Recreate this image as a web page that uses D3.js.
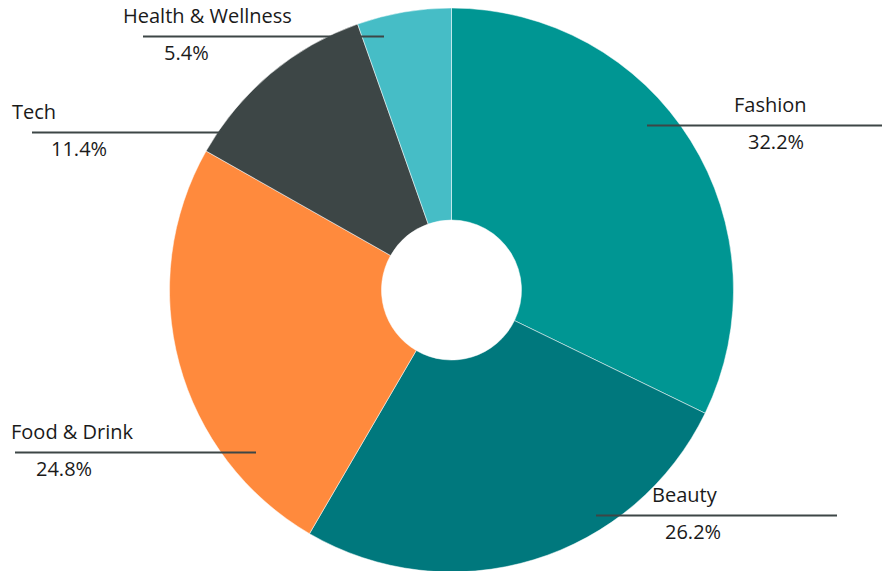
<!DOCTYPE html>
<html>
<head>
<meta charset="utf-8">
<script src="https://cdn.jsdelivr.net/npm/d3@7/dist/d3.min.js"></script>
<style>
  html, body { margin: 0; padding: 0; background: #fff; }
  svg { display: block; }
  text { font-family: "Open Sans", Lato, sans-serif; fill: #1a1a1a; }
</style>
</head>
<body>
<svg id="chart" width="882" height="571"></svg>
<script>
// Share of content by category (percent)
const categories = ["Fashion", "Beauty", "Food & Drink", "Tech", "Health & Wellness"];
const shares = [32.2, 26.2, 24.8, 11.4, 5.4];
const colors = ["#009693", "#00787d", "#ff8a3d", "#3d4646", "#46bdc6"];

// Leader line and label placement for each category
const labelLayout = [
  { x1: 647, x2: 882, y: 125.5, nameX: 734, valueX: 748 },
  { x1: 596, x2: 837, y: 515.5, nameX: 652, valueX: 665 },
  { x1: 15,  x2: 256, y: 452.5, nameX: 11,  valueX: 36 },
  { x1: 32,  x2: 222, y: 132.5, nameX: 12,  valueX: 51 },
  { x1: 143, x2: 384, y: 36.5,  nameX: 123, valueX: 164 }
];

const svg = d3.select("#chart");
const cx = 451.5, cy = 290, outerR = 282, innerR = 70;

const data = categories.map((c, i) => ({ name: c, value: shares[i], color: colors[i], layout: labelLayout[i] }));

const pie = d3.pie().value(d => d.value).sort(null);
const arc = d3.arc().innerRadius(innerR).outerRadius(outerR);

const g = svg.append("g").attr("transform", `translate(${cx},${cy})`);
g.selectAll("path")
  .data(pie(data))
  .join("path")
  .attr("d", arc)
  .attr("fill", d => d.data.color)
  .attr("stroke", "#ffffff")
  .attr("stroke-width", 0.5);

const labels = svg.append("g");
data.forEach(d => {
  const L = d.layout;
  labels.append("line")
    .attr("x1", L.x1).attr("x2", L.x2)
    .attr("y1", L.y).attr("y2", L.y)
    .attr("stroke", "#3d4646")
    .attr("stroke-width", 2);
  labels.append("text")
    .attr("x", L.nameX).attr("y", L.y - 14)
    .attr("font-size", 20)
    .text(d.name);
  labels.append("text")
    .attr("x", L.valueX).attr("y", L.y + 23)
    .attr("font-size", 20)
    .text(d3.format(".1f")(d.value) + "%");
});
</script>
</body>
</html>
